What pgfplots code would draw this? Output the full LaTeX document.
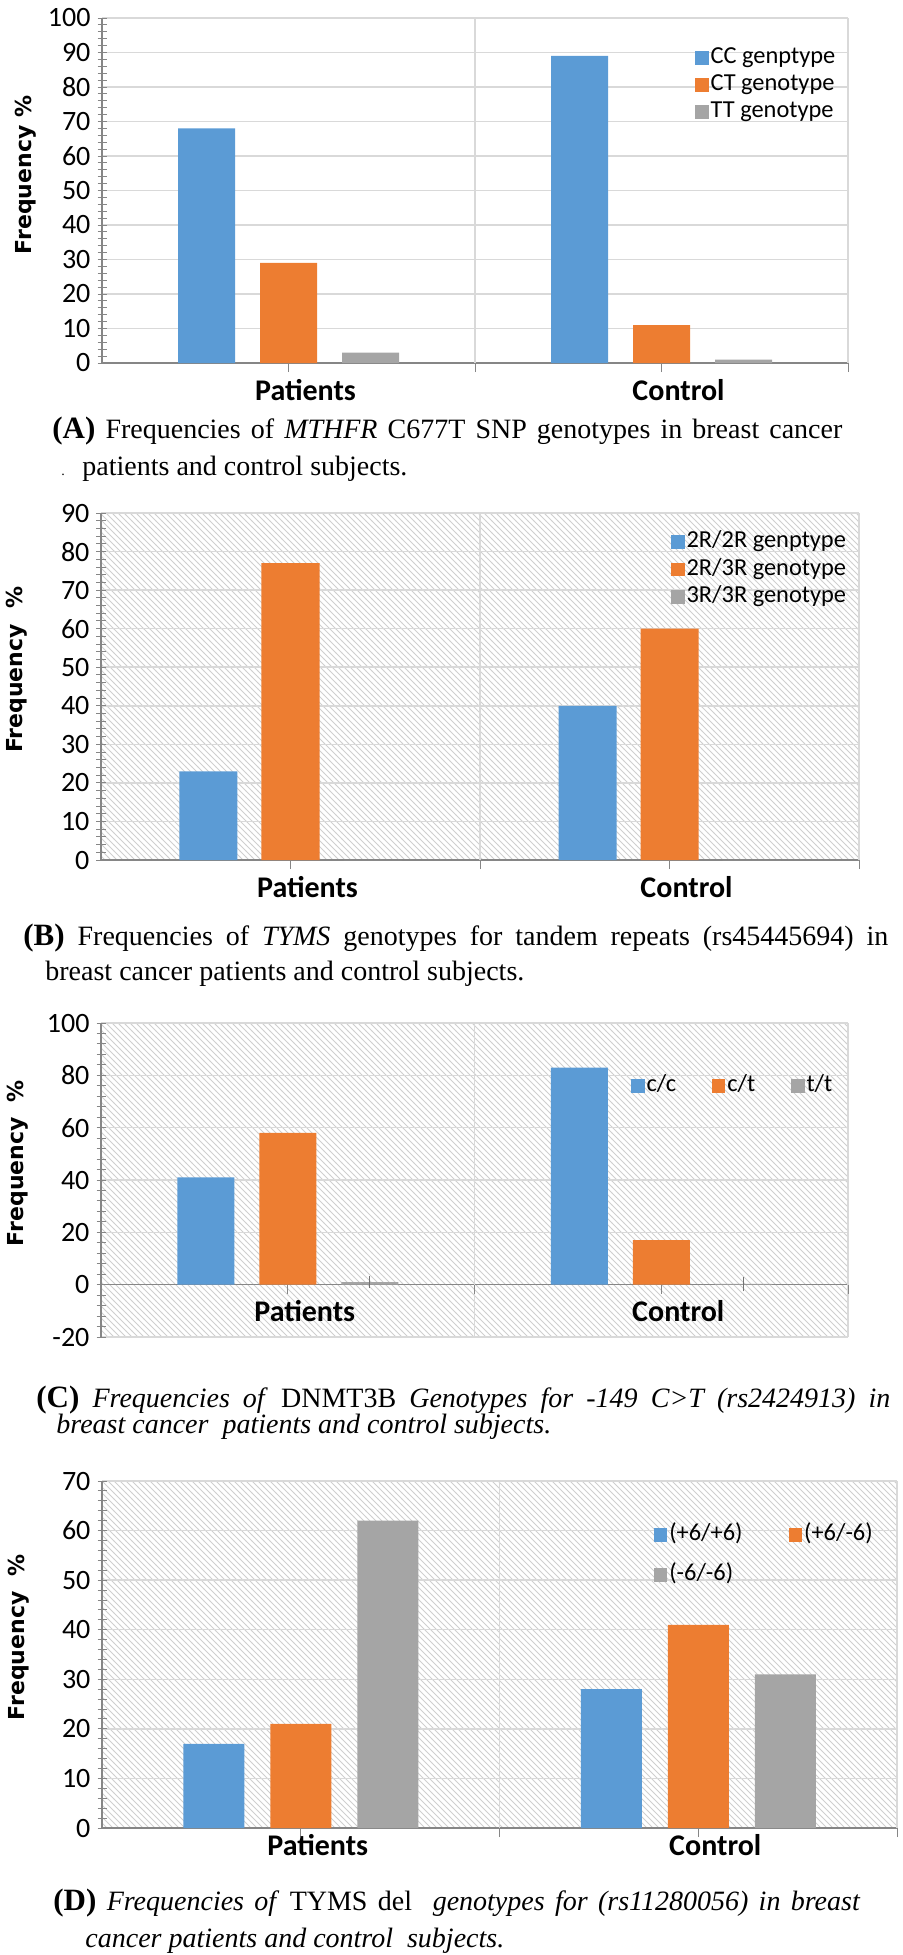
\documentclass[border=0pt]{standalone}
\usepackage{fontspec}
\setmainfont{Carlito}
\newfontfamily\capfont{Liberation Serif}
\newfontfamily\ylfont{DejaVu Sans}
\usepackage{pgfplots}
\pgfplotsset{compat=1.18}
\usetikzlibrary{patterns}

\definecolor{cblue}{HTML}{5B9BD5}
\definecolor{corange}{HTML}{ED7D31}
\definecolor{cgray}{HTML}{A5A5A5}
\definecolor{gridc}{HTML}{D9D9D9}
\definecolor{axc}{HTML}{868686}
\definecolor{hatchc}{HTML}{CFCFCF}

\pgfplotsset{
  panel/.style={
    scale only axis,
    axis lines*=left,
    axis line style={draw=axc, line width=0.75pt},
    xmin=-0.5, xmax=1.5,
    xtick={0,1}, xticklabels={Patients,Control},
    extra x ticks={0.5,1.5}, extra x tick labels={},
    extra x tick style={grid=major},
    ymajorgrids,
    major grid style={draw=gridc, line width=0.75pt},
    minor y tick num=4,
    tick align=center,
    major tick length=4.5pt, minor tick length=4.5pt,
    tick style={draw=axc, line width=0.5pt},
    xticklabel style={font=\bfseries\fontsize{15}{18}\selectfont, xshift=8.5pt},
    yticklabel style={font=\fontsize{14}{16}\selectfont},
    /pgf/number format/assume math mode=true,
    every axis plot/.append style={draw=none},
    every axis plot post/.append style={
      legend image code/.code={\fill[##1, draw=none] (0pt,-3.3pt) rectangle (6.8pt,3.3pt);}},
    legend cell align=left,
    legend style={draw=none, fill=none, inner sep=0pt, outer sep=0pt,
      font=\fontsize{12.2}{14}\selectfont,
      nodes={inner sep=1pt, text height=8.5pt, text depth=2.5pt}},
  },
  ylab/.style 2 args={
    every axis y label/.style={at={(rel axis cs:0,#1)}, xshift=-#2, rotate=90, anchor=center,
      font=\ylfont\bfseries\fontsize{11}{13}\selectfont}},
  hatch/.style={axis background/.style={pattern=north west lines, pattern color=hatchc}},
}

\newcommand{\capsize}{\fontsize{14}{16}\selectfont}
\newcommand{\lab}[1]{{\fontsize{15.5}{18}\selectfont\bfseries #1}}

\begin{document}
\begin{tikzpicture}
\useasboundingbox (0,0) rectangle (451pt,-977.5pt);

% ---------------- Panel A ----------------
\begin{axis}[panel, at={(51pt,-181.5pt)}, anchor=south west,
  width=373pt, height=172.5pt,
  ymin=0, ymax=100, ytick distance=10,
  bar width=28.5pt, ybar=12.5pt,
  ylabel={Frequency \%}, ylab={0.545}{38pt},
  legend style={at={(0.795,0.922)}, anchor=north west, row sep=0.5pt},
]
\addplot[fill=cblue] coordinates {(0,68) (1,89)};
\addplot[fill=corange] coordinates {(0,29) (1,11)};
\addplot[fill=cgray] coordinates {(0,3) (1,1)};
\legend{CC genptype, CT genotype, TT genotype}
\end{axis}
\node[anchor=base west, inner sep=0pt] at (26pt,-219pt) {\capfont\capsize\makebox[395pt][s]{\lab{(A)}\ Frequencies of \textit{MTHFR} C677T SNP genotypes in breast cancer}};
\node[anchor=base west, inner sep=0pt] at (41pt,-237.5pt) {\capfont\capsize patients and control subjects.};
\node[anchor=base west, inner sep=0pt] at (30.5pt,-237.5pt) {\capfont\fontsize{7}{8}\selectfont .};

% ---------------- Panel B ----------------
\begin{axis}[panel, hatch, at={(50.5pt,-430pt)}, anchor=south west,
  width=379pt, height=173.5pt,
  ymin=0, ymax=90, ytick distance=10,
  bar width=29pt, ybar=12pt,
  ylabel={Frequency\ \ \%}, ylab={0.548}{42pt},
  legend style={at={(0.752,0.954)}, anchor=north west, row sep=0.75pt},
]
\addplot[fill=cblue] coordinates {(0,23) (1,40)};
\addplot[fill=corange] coordinates {(0,77) (1,60)};
\addplot[fill=cgray] coordinates {(0,0) (1,0)};
\legend{2R/2R genptype, 2R/3R genotype, 3R/3R genotype}
\end{axis}
\node[anchor=base west, inner sep=0pt] at (11.5pt,-472.5pt) {\capfont\capsize\makebox[432.5pt][s]{\lab{(B)}\ Frequencies of \textit{TYMS} genotypes for tandem repeats (rs45445694) in}};
\node[anchor=base west, inner sep=0pt] at (22.5pt,-490pt) {\capfont\capsize breast cancer patients and control subjects.};

% ---------------- Panel C ----------------
\begin{axis}[panel, hatch, at={(50.5pt,-668.5pt)}, anchor=south west,
  width=373.5pt, height=157pt,
  axis x line*=middle, axis y line*=left,
  hide obscured y ticks=false,
  ymin=-20, ymax=100, ytick distance=20,
  bar width=28.5pt, ybar=12.5pt,
  ylabel={Frequency\ \ \%}, ylab={0.554}{41.5pt},
  legend columns=3,
  legend style={at={(0.7095,0.841)}, anchor=north west,
    /tikz/every even column/.append style={column sep=16.8pt}},
]
\addplot[fill=cblue] coordinates {(0,41) (1,83)};
\addplot[fill=corange] coordinates {(0,58) (1,17)};
\addplot[fill=cgray, error bars/.cd, y dir=both, y explicit,
  error bar style={draw=black!55, line width=0.5pt},
  error mark=-, error mark options={draw=black!55, mark size=2.5pt}]
  coordinates {(0,1) +- (0,0.4) (1,0.3) +- (0,0.9)};
\legend{c/c, c/t, t/t}
\end{axis}
\node[anchor=base west, inner sep=0pt] at (18pt,-703.5pt) {\capfont\capsize\makebox[427pt][s]{\lab{(C)}\ \textit{Frequencies of} DNMT3B \textit{Genotypes for -149 C>T (rs2424913) in}}};
\node[anchor=base west, inner sep=0pt] at (28pt,-716.5pt) {\capfont\capsize\itshape breast cancer\ \ patients and control subjects.};

% ---------------- Panel D ----------------
\begin{axis}[panel, hatch, at={(51pt,-914pt)}, anchor=south west,
  width=397.5pt, height=173.5pt,
  ymin=0, ymax=70, ytick distance=10,
  bar width=30.5pt, ybar=13pt,
  xticklabel style={yshift=5pt},
  ylabel={Frequency\ \ \%}, ylab={0.55}{41.5pt},
  legend columns=2,
  legend style={at={(0.694,0.882)}, anchor=north west, row sep=7pt,
    /tikz/every even column/.append style={column sep=22pt}},
]
\addplot[fill=cblue] coordinates {(0,17) (1,28)};
\addplot[fill=corange] coordinates {(0,21) (1,41)};
\addplot[fill=cgray] coordinates {(0,62) (1,31)};
\legend{(+6/+6), (+6/-6), (-6/-6)}
\end{axis}
\node[anchor=base west, inner sep=0pt] at (26.5pt,-955pt) {\capfont\capsize\makebox[403.5pt][s]{\lab{(D)}\ \textit{Frequencies of} TYMS del\ \ \textit{genotypes for (rs11280056) in breast}}};
\node[anchor=base west, inner sep=0pt] at (42.5pt,-973.5pt) {\capfont\capsize\itshape cancer patients and control\ \ subjects.};
\end{tikzpicture}
\end{document}
